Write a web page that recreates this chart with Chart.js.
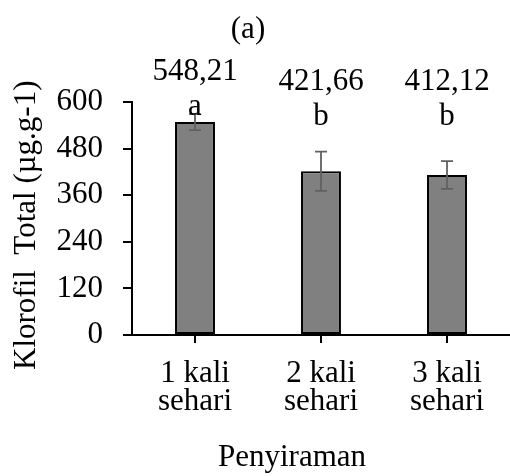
<!DOCTYPE html>
<html>
<head>
<meta charset="utf-8">
<script src="https://cdn.jsdelivr.net/npm/chart.js@4/dist/chart.umd.min.js"></script>
<style>
  html, body { margin: 0; padding: 0; background: #ffffff; }
  #wrap { width: 510px; height: 476px; }
</style>
</head>
<body>
<div id="wrap"><canvas id="c" width="510" height="476"></canvas></div>
<script>
const categories = [["1 kali", "sehari"], ["2 kali", "sehari"], ["3 kali", "sehari"]];
const values = [548.21, 421.66, 412.12];
const errors = [20.5, 50.6, 35.6];
const valueLabels = ["548,21", "421,66", "412,12"];
const letters = ["a", "b", "b"];
const yTicks = [0, 120, 240, 360, 480, 600];
const chartTitle = "(a)";
const xTitle = "Penyiraman";
const yTitle = "Klorofil  Total (µg.g-1)";

const FONT = "'Liberation Serif', 'Times New Roman', serif";
const FSIZE = 31;

const annot = {
  id: 'annot',
  afterDatasetsDraw(chart, args, opts) {
    const ctx = chart.ctx;
    const meta = chart.getDatasetMeta(0);
    const ys = chart.scales.y;
    const area = chart.chartArea;
    ctx.save();
    // error bars
    ctx.strokeStyle = '#606060';
    ctx.lineWidth = 1.8;
    meta.data.forEach((bar, i) => {
      const x = bar.x;
      const yHi = ys.getPixelForValue(values[i] + errors[i]);
      const yLo = ys.getPixelForValue(values[i] - errors[i]);
      ctx.beginPath();
      ctx.moveTo(x, yHi); ctx.lineTo(x, yLo);
      ctx.moveTo(x - 6, yHi); ctx.lineTo(x + 6, yHi);
      ctx.moveTo(x - 6, yLo); ctx.lineTo(x + 6, yLo);
      ctx.stroke();
    });
    // value labels and letters
    ctx.fillStyle = '#000';
    ctx.font = FSIZE + 'px ' + FONT;
    ctx.textAlign = 'center';
    ctx.textBaseline = 'alphabetic';
    meta.data.forEach((bar, i) => {
      const shift = opts.shifts[i];
      ctx.fillText(valueLabels[i], bar.x, area.top + opts.valueOffset + shift);
      ctx.fillText(letters[i], bar.x, area.top + opts.letterOffset + shift);
    });
    // titles
    ctx.fillText(chartTitle, opts.titleX, opts.titleY);
    ctx.fillText(xTitle, opts.xTitleX, chart.height - opts.xTitleBottom);
    ctx.save();
    ctx.translate(opts.yTitleX, opts.yTitleStart);
    ctx.rotate(-Math.PI / 2);
    ctx.textAlign = 'left';
    ctx.fillText(yTitle, 0, 0);
    ctx.restore();
    ctx.restore();
  }
};

new Chart(document.getElementById('c'), {
  type: 'bar',
  data: {
    labels: categories,
    datasets: [{
      data: values,
      backgroundColor: '#808080',
      borderColor: '#000000',
      borderWidth: 2,
      borderSkipped: false,
      barPercentage: 0.317,
      categoryPercentage: 1.0
    }]
  },
  options: {
    responsive: false,
    animation: false,
    devicePixelRatio: 1,
    layout: { padding: { top: 102, right: 0, left: 0, bottom: 0 } },
    plugins: {
      legend: { display: false },
      tooltip: { enabled: false },
      annot: {
        valueOffset: -12, letterOffset: 23, shifts: [-10, 0, 0],
        titleX: 248, titleY: 38,
        xTitleX: 292, xTitleBottom: 10,
        yTitleX: 35, yTitleStart: 370
      }
    },
    scales: {
      x: {
        offset: true,
        grid: { display: true, drawOnChartArea: false, drawTicks: true, tickLength: 8, offset: false, color: '#000', lineWidth: 2 },
        border: { display: true, color: '#000', width: 2 },
        ticks: { color: '#000', font: { family: FONT, size: FSIZE, lineHeight: 0.9 }, padding: 17, maxRotation: 0, autoSkip: false },
        afterFit(scale) { scale.height = 141; }
      },
      y: {
        min: 0, max: 600,
        afterBuildTicks(scale) { scale.ticks = yTicks.map(v => ({ value: v })); },
        grid: { display: true, drawOnChartArea: false, drawTicks: true, tickLength: 9, color: '#000', lineWidth: 2 },
        border: { display: true, color: '#000', width: 2 },
        ticks: { color: '#000', font: { family: FONT, size: FSIZE }, padding: 20 },
        afterFit(scale) { scale.width = 132; }
      }
    }
  },
  plugins: [annot]
});
</script>
</body>
</html>
